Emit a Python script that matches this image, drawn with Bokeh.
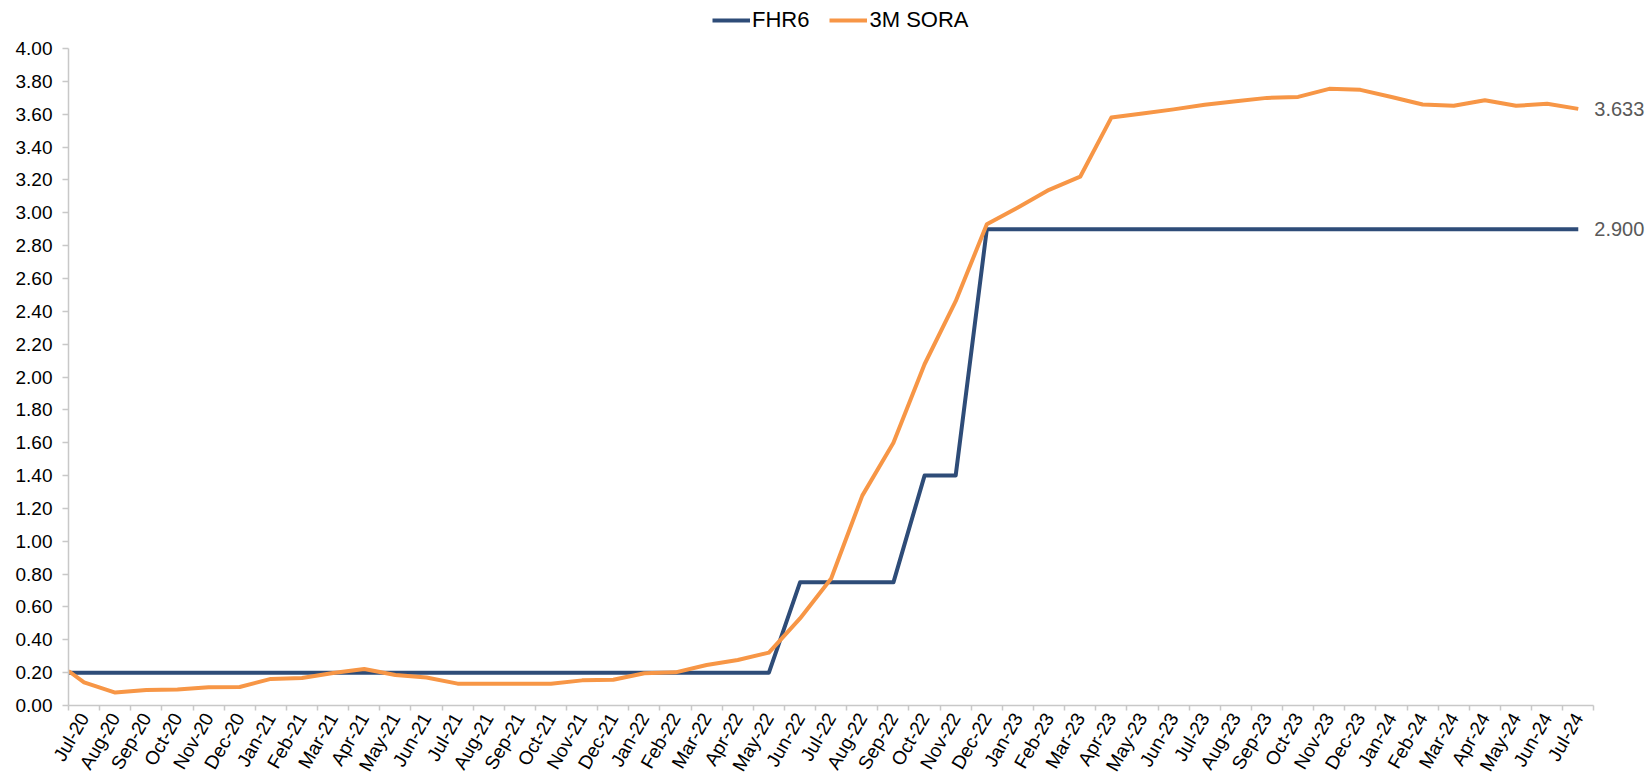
from bokeh.plotting import figure
from bokeh.models import Range1d, FixedTicker, NumeralTickFormatter, Legend, LegendItem, Label
from bokeh.embed import file_html
from bokeh.resources import INLINE

months = ["Jul-20", "Aug-20", "Sep-20", "Oct-20", "Nov-20", "Dec-20",
          "Jan-21", "Feb-21", "Mar-21", "Apr-21", "May-21", "Jun-21",
          "Jul-21", "Aug-21", "Sep-21", "Oct-21", "Nov-21", "Dec-21",
          "Jan-22", "Feb-22", "Mar-22", "Apr-22", "May-22", "Jun-22",
          "Jul-22", "Aug-22", "Sep-22", "Oct-22", "Nov-22", "Dec-22",
          "Jan-23", "Feb-23", "Mar-23", "Apr-23", "May-23", "Jun-23",
          "Jul-23", "Aug-23", "Sep-23", "Oct-23", "Nov-23", "Dec-23",
          "Jan-24", "Feb-24", "Mar-24", "Apr-24", "May-24", "Jun-24",
          "Jul-24"]

# value at the very start of the period (left edge of Jul-20)
fhr6_start = 0.20
sora_start = 0.21

fhr6 = [0.20, 0.20, 0.20, 0.20, 0.20, 0.20,
        0.20, 0.20, 0.20, 0.20, 0.20, 0.20,
        0.20, 0.20, 0.20, 0.20, 0.20, 0.20,
        0.20, 0.20, 0.20, 0.20, 0.20, 0.75,
        0.75, 0.75, 0.75, 1.40, 1.40, 2.90,
        2.90, 2.90, 2.90, 2.90, 2.90, 2.90,
        2.90, 2.90, 2.90, 2.90, 2.90, 2.90,
        2.90, 2.90, 2.90, 2.90, 2.90, 2.90,
        2.90]

sora = [0.141, 0.079, 0.095, 0.097, 0.111, 0.113,
        0.162, 0.168, 0.198, 0.222, 0.186, 0.170,
        0.133, 0.133, 0.133, 0.133, 0.153, 0.157,
        0.196, 0.202, 0.247, 0.277, 0.322, 0.530,
        0.773, 1.278, 1.600, 2.078, 2.462, 2.930,
        3.033, 3.140, 3.220, 3.580, 3.605, 3.630,
        3.658, 3.680, 3.700, 3.706, 3.755, 3.749,
        3.705, 3.660, 3.652, 3.686, 3.652, 3.664,
        3.633]

y_ticks = [0.0, 0.2, 0.4, 0.6, 0.8, 1.0, 1.2, 1.4, 1.6, 1.8, 2.0,
           2.2, 2.4, 2.6, 2.8, 3.0, 3.2, 3.4, 3.6, 3.8, 4.0]
y_max = 4.0

FONT = "Liberation Sans"
BLUE = "#2E4C78"
ORANGE = "#F79646"
AXIS = "#C8C8C8"

n = len(months)
centers = [i + 0.5 for i in range(n)]
xs = [0.0] + centers

# frame extends past the axes so that the legend and end labels are not clipped
p = figure(width=1650, height=782, output_backend="svg", toolbar_location=None,
           x_range=Range1d(0, n + 1.82), y_range=Range1d(0, y_max + 0.293),
           min_border_left=68, min_border_right=0, min_border_top=0,
           min_border_bottom=75)
p.outline_line_color = None
p.grid.visible = False

r1 = p.line(xs, [fhr6_start] + fhr6, line_color=BLUE, line_width=4, line_join="round")
r2 = p.line(xs, [sora_start] + sora, line_color=ORANGE, line_width=4, line_join="round")

xa = p.xaxis[0]
xa.bounds = (0, n)
xa.ticker = FixedTicker(ticks=centers, minor_ticks=list(range(n + 1)))
xa.major_label_overrides = {c: m for c, m in zip(centers, months)}
xa.major_tick_line_color = None
xa.major_tick_out = 6
xa.minor_tick_line_color = AXIS
xa.minor_tick_line_width = 1.5
xa.minor_tick_out = 5
xa.minor_tick_in = 0
xa.axis_line_color = AXIS
xa.axis_line_width = 1.5
xa.major_label_orientation = 1.05
xa.major_label_standoff = 3
xa.major_label_text_font = FONT
xa.major_label_text_font_size = "19px"
xa.major_label_text_color = "#000000"

ya = p.yaxis[0]
ya.bounds = (0, y_max)
ya.ticker = FixedTicker(ticks=y_ticks)
ya.formatter = NumeralTickFormatter(format="0.00")
ya.major_tick_line_color = AXIS
ya.major_tick_line_width = 1.5
ya.major_tick_out = 6
ya.major_tick_in = 0
ya.minor_tick_line_color = None
ya.axis_line_color = AXIS
ya.axis_line_width = 1.5
ya.major_label_standoff = 10
ya.major_label_text_font = FONT
ya.major_label_text_font_size = "19px"
ya.major_label_text_color = "#000000"

legend = Legend(items=[LegendItem(label="FHR6", renderers=[r1]),
                       LegendItem(label="3M SORA", renderers=[r2])],
                orientation="horizontal", location=(644, 672),
                border_line_color=None, background_fill_alpha=0,
                padding=0, margin=0, glyph_width=38, glyph_height=22,
                label_height=22, spacing=20, label_standoff=2,
                label_text_font=FONT, label_text_font_size="22px",
                label_text_color="#000000")
p.add_layout(legend, "center")

for vals in (sora, fhr6):
    p.add_layout(Label(x=xs[-1], y=vals[-1], text=f"{vals[-1]:.3f}", x_offset=16,
                       text_baseline="middle", text_font=FONT,
                       text_font_size="20px", text_color="#595959"))

open("out.html", "w").write(file_html(p, INLINE))
